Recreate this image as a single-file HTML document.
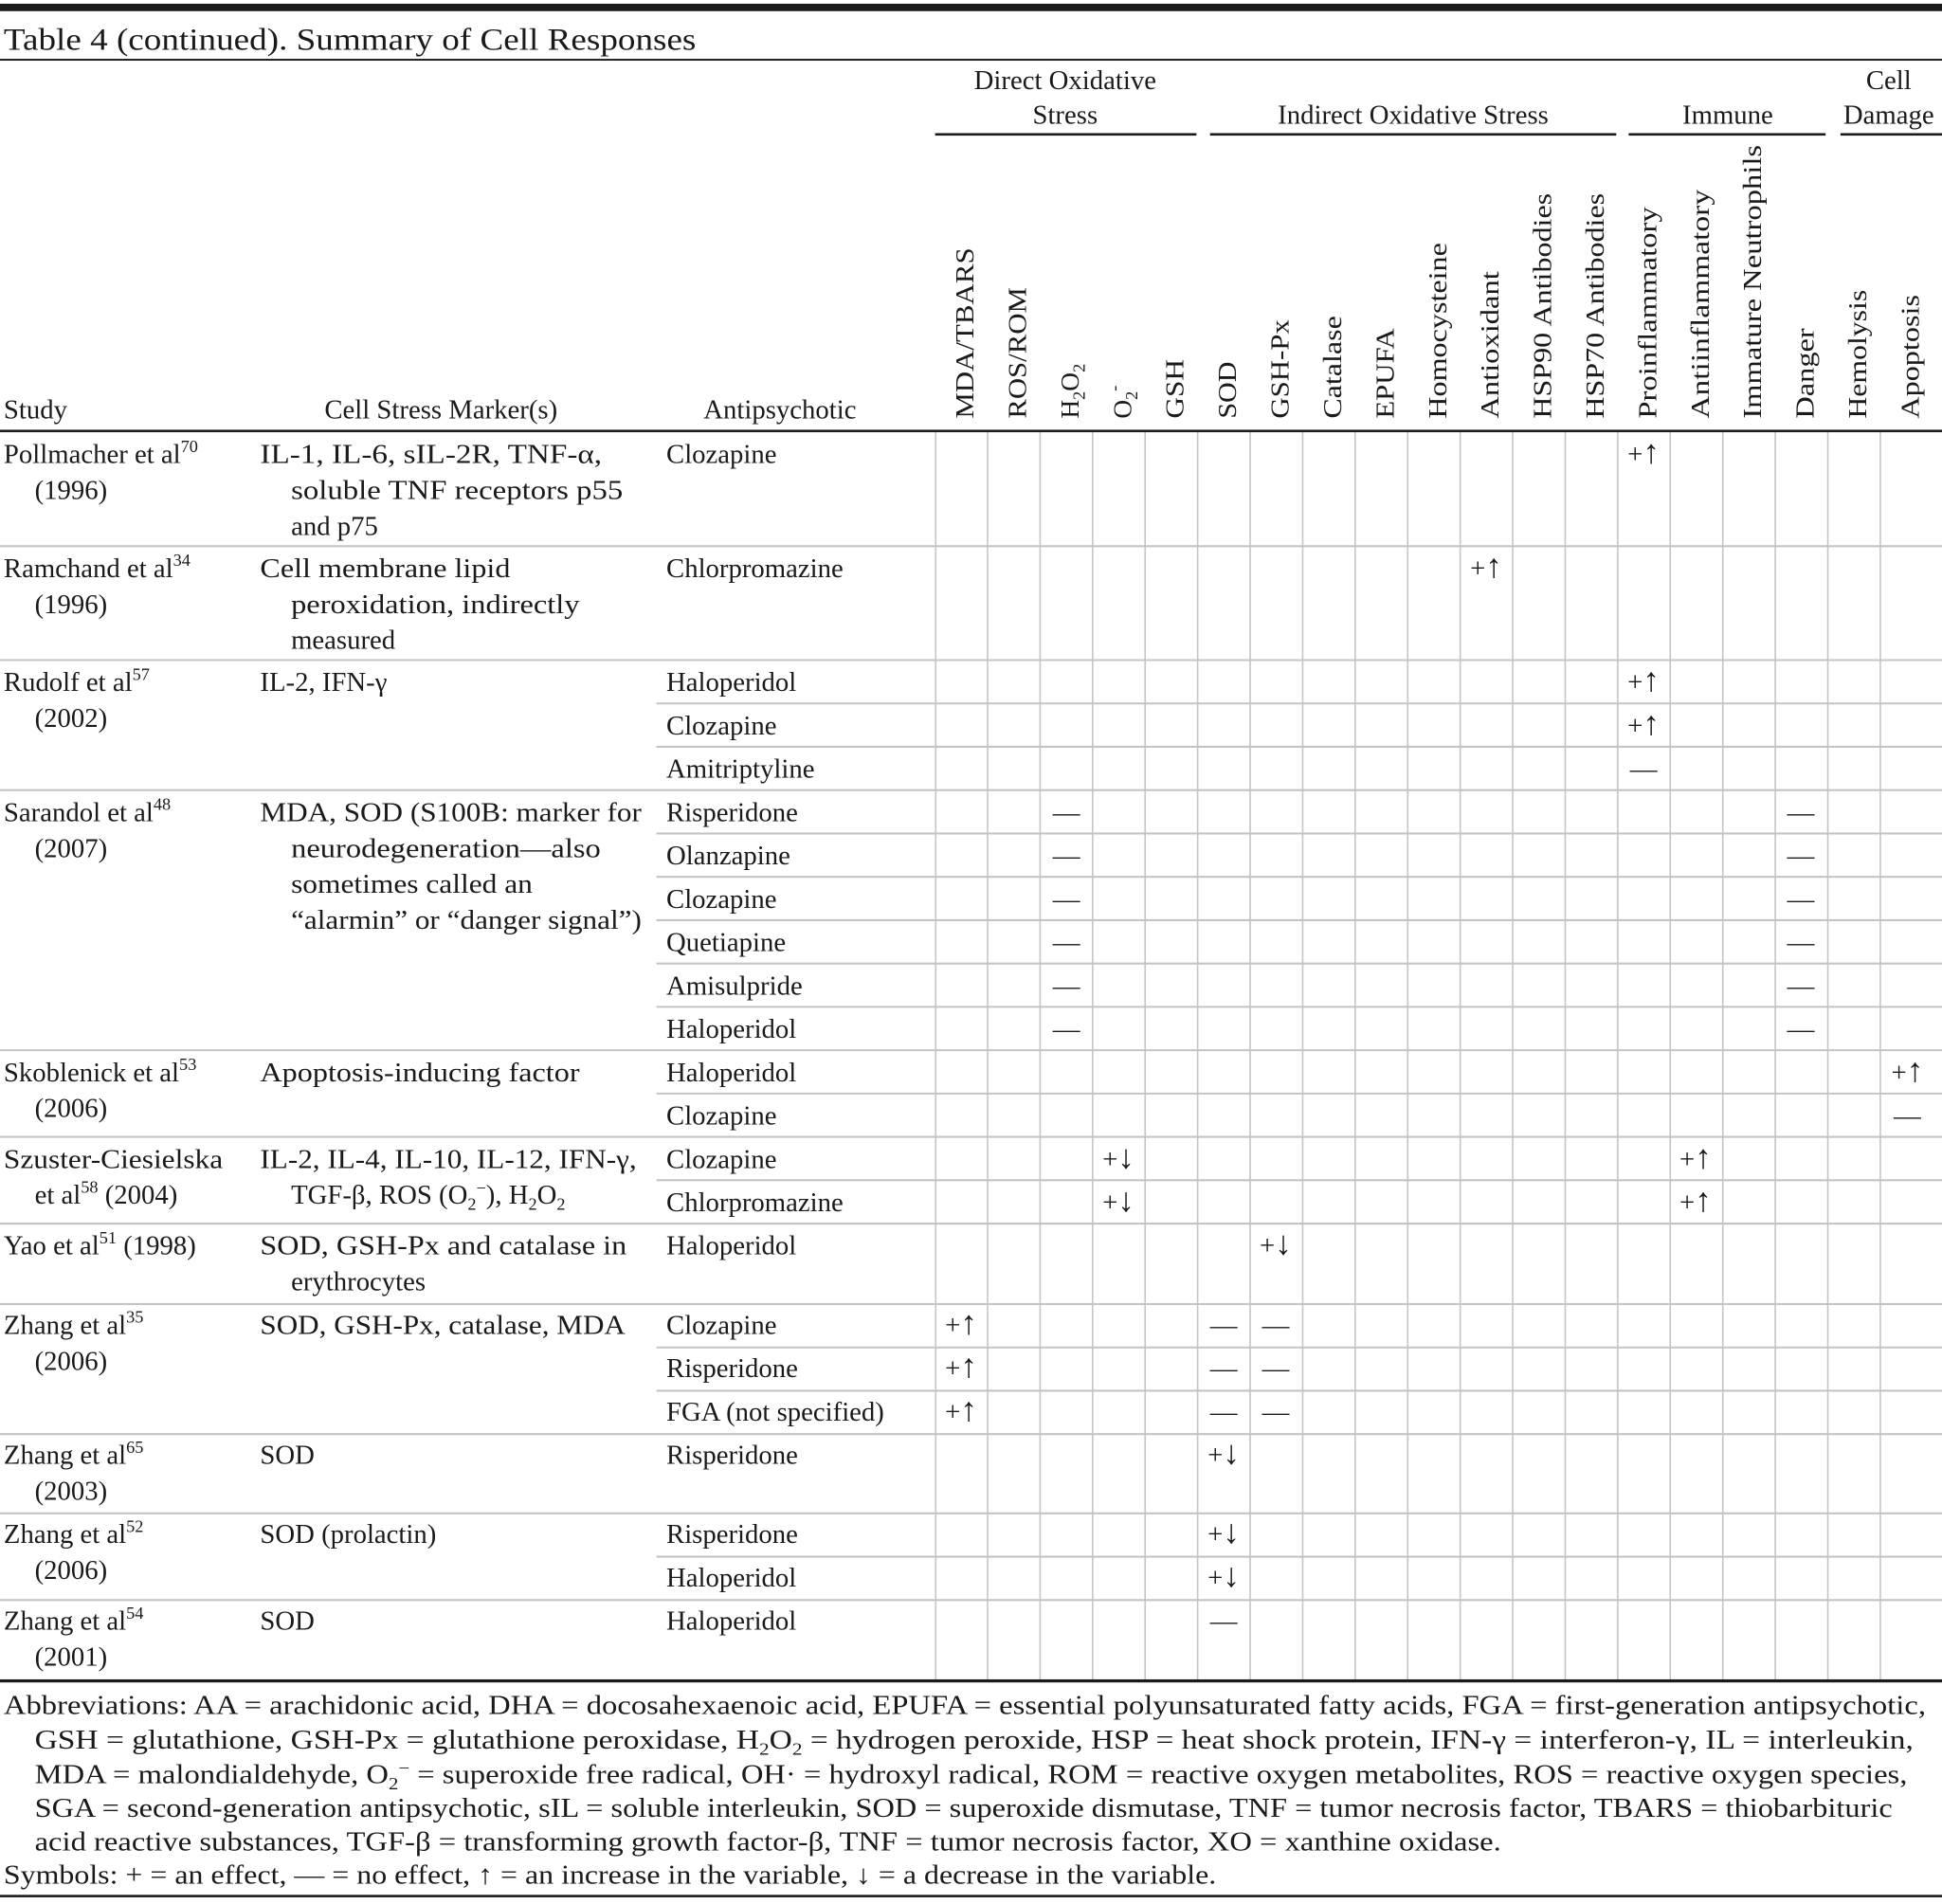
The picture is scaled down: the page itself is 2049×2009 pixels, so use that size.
<!DOCTYPE html>
<html><head><meta charset="utf-8"><style>html,body{margin:0;padding:0;background:#fff}svg{display:block}.ar{font-size:27px}</style></head>
<body>
<svg width="2049" height="2009" viewBox="0 0 1568 1537.4" preserveAspectRatio="none" xmlns="http://www.w3.org/2000/svg" font-family="Liberation Serif, serif" fill="#1a1a1a">
<rect x="0" y="3" width="1568" height="6" fill="#1a1a1a"/>
<text x="3" y="40" font-size="25" textLength="559" lengthAdjust="spacingAndGlyphs">Table 4 (continued). Summary of Cell Responses</text>
<rect x="0" y="47.5" width="1568" height="1.5"/>
<g font-size="22" text-anchor="middle">
<text x="860" y="72">Direct Oxidative</text>
<text x="860" y="100">Stress</text>
<text x="1141" y="100">Indirect Oxidative Stress</text>
<text x="1395" y="100">Immune</text>
<text x="1525" y="72">Cell</text>
<text x="1525" y="100">Damage</text>
</g>
<g fill="#1a1a1a">
<rect x="755" y="107.5" width="211" height="2"/>
<rect x="977" y="107.5" width="328" height="2"/>
<rect x="1315" y="107.5" width="159" height="2"/>
<rect x="1486" y="107.5" width="82" height="2"/>
</g>
<g font-size="22">
<text x="3" y="338">Study</text>
<text x="262" y="338">Cell Stress Marker(s)</text>
<text x="568" y="338">Antipsychotic</text>
</g>
<g font-size="21">
<text transform="translate(786,338) rotate(-90)" textLength="138" lengthAdjust="spacingAndGlyphs">MDA/TBARS</text>
<text transform="translate(828.4,338) rotate(-90)" textLength="106" lengthAdjust="spacingAndGlyphs">ROS/ROM</text>
<text transform="translate(870.8,338) rotate(-90)">H<tspan font-size="14" dy="5">2</tspan><tspan dy="-5">O</tspan><tspan font-size="14" dy="5">2</tspan></text>
<text transform="translate(913.2,338) rotate(-90)">O<tspan font-size="14" dy="5">2</tspan><tspan font-size="14" dy="-14">-</tspan></text>
<text transform="translate(955.6,338) rotate(-90)" textLength="48" lengthAdjust="spacingAndGlyphs">GSH</text>
<text transform="translate(998,338) rotate(-90)" textLength="46" lengthAdjust="spacingAndGlyphs">SOD</text>
<text transform="translate(1040.4,338) rotate(-90)" textLength="80" lengthAdjust="spacingAndGlyphs">GSH-Px</text>
<text transform="translate(1082.8,338) rotate(-90)" textLength="83" lengthAdjust="spacingAndGlyphs">Catalase</text>
<text transform="translate(1125.2,338) rotate(-90)" textLength="73" lengthAdjust="spacingAndGlyphs">EPUFA</text>
<text transform="translate(1167.6,338) rotate(-90)" textLength="142" lengthAdjust="spacingAndGlyphs">Homocysteine</text>
<text transform="translate(1210,338) rotate(-90)" textLength="119" lengthAdjust="spacingAndGlyphs">Antioxidant</text>
<text transform="translate(1252.4,338) rotate(-90)" textLength="182" lengthAdjust="spacingAndGlyphs">HSP90 Antibodies</text>
<text transform="translate(1294.8,338) rotate(-90)" textLength="182" lengthAdjust="spacingAndGlyphs">HSP70 Antibodies</text>
<text transform="translate(1337.2,338) rotate(-90)" textLength="171" lengthAdjust="spacingAndGlyphs">Proinflammatory</text>
<text transform="translate(1379.6,338) rotate(-90)" textLength="185" lengthAdjust="spacingAndGlyphs">Antiinflammatory</text>
<text transform="translate(1422,338) rotate(-90)" textLength="221" lengthAdjust="spacingAndGlyphs">Immature Neutrophils</text>
<text transform="translate(1464.4,338) rotate(-90)" textLength="73" lengthAdjust="spacingAndGlyphs">Danger</text>
<text transform="translate(1506.8,338) rotate(-90)" textLength="104" lengthAdjust="spacingAndGlyphs">Hemolysis</text>
<text transform="translate(1549.2,338) rotate(-90)" textLength="100" lengthAdjust="spacingAndGlyphs">Apoptosis</text>
</g>
<g stroke="#c4c4c4" stroke-width="1.2">
<line x1="755.5" y1="348" x2="755.5" y2="1357"/>
<line x1="797.4" y1="348" x2="797.4" y2="1357"/>
<line x1="839.8" y1="348" x2="839.8" y2="1357"/>
<line x1="882.2" y1="348" x2="882.2" y2="1357"/>
<line x1="924.6" y1="348" x2="924.6" y2="1357"/>
<line x1="967" y1="348" x2="967" y2="1357"/>
<line x1="1009.4" y1="348" x2="1009.4" y2="1357"/>
<line x1="1051.8" y1="348" x2="1051.8" y2="1357"/>
<line x1="1094.2" y1="348" x2="1094.2" y2="1357"/>
<line x1="1136.6" y1="348" x2="1136.6" y2="1357"/>
<line x1="1179" y1="348" x2="1179" y2="1357"/>
<line x1="1221.4" y1="348" x2="1221.4" y2="1357"/>
<line x1="1263.8" y1="348" x2="1263.8" y2="1357"/>
<line x1="1306.2" y1="348" x2="1306.2" y2="1357"/>
<line x1="1348.6" y1="348" x2="1348.6" y2="1357"/>
<line x1="1391" y1="348" x2="1391" y2="1357"/>
<line x1="1433.4" y1="348" x2="1433.4" y2="1357"/>
<line x1="1475.8" y1="348" x2="1475.8" y2="1357"/>
<line x1="1518.2" y1="348" x2="1518.2" y2="1357"/>
</g>
<g stroke="#c4c4c4" stroke-width="1.6">
<line x1="0" y1="441" x2="1568" y2="441"/>
<line x1="0" y1="533" x2="1568" y2="533"/>
<line x1="530" y1="568" x2="1568" y2="568"/>
<line x1="530" y1="603" x2="1568" y2="603"/>
<line x1="0" y1="638" x2="1568" y2="638"/>
<line x1="530" y1="673" x2="1568" y2="673"/>
<line x1="530" y1="708" x2="1568" y2="708"/>
<line x1="530" y1="743" x2="1568" y2="743"/>
<line x1="530" y1="778" x2="1568" y2="778"/>
<line x1="530" y1="813" x2="1568" y2="813"/>
<line x1="0" y1="848" x2="1568" y2="848"/>
<line x1="530" y1="883" x2="1568" y2="883"/>
<line x1="0" y1="918" x2="1568" y2="918"/>
<line x1="530" y1="953" x2="1568" y2="953"/>
<line x1="0" y1="988" x2="1568" y2="988"/>
<line x1="0" y1="1053" x2="1568" y2="1053"/>
<line x1="530" y1="1088" x2="1568" y2="1088"/>
<line x1="530" y1="1123" x2="1568" y2="1123"/>
<line x1="0" y1="1158" x2="1568" y2="1158"/>
<line x1="0" y1="1222" x2="1568" y2="1222"/>
<line x1="530" y1="1257" x2="1568" y2="1257"/>
<line x1="0" y1="1292" x2="1568" y2="1292"/>
</g>
<rect x="0" y="347" width="1568" height="2"/>
<rect x="0" y="1356" width="1568" height="2.5"/>
<rect x="0" y="1530" width="1568" height="2"/>
<g font-size="22">
<text x="3" y="374">Pollmacher et al<tspan font-size="14" dy="-9">70</tspan></text>
<text x="28" y="403">(1996)</text>
<text x="210" y="374" textLength="276" lengthAdjust="spacingAndGlyphs">IL-1, IL-6, sIL-2R, TNF-α,</text>
<text x="235" y="403" textLength="268" lengthAdjust="spacingAndGlyphs">soluble TNF receptors p55</text>
<text x="235" y="432">and p75</text>
<text x="538" y="374">Clozapine</text>

<text x="3" y="466">Ramchand et al<tspan font-size="14" dy="-9">34</tspan></text>
<text x="28" y="495">(1996)</text>
<text x="210" y="466" textLength="202" lengthAdjust="spacingAndGlyphs">Cell membrane lipid</text>
<text x="235" y="495" textLength="233" lengthAdjust="spacingAndGlyphs">peroxidation, indirectly</text>
<text x="235" y="524">measured</text>
<text x="538" y="466">Chlorpromazine</text>

<text x="3" y="558">Rudolf et al<tspan font-size="14" dy="-9">57</tspan></text>
<text x="28" y="587">(2002)</text>
<text x="210" y="558">IL-2, IFN-γ</text>
<text x="538" y="558">Haloperidol</text>
<text x="538" y="593">Clozapine</text>
<text x="538" y="628">Amitriptyline</text>

<text x="3" y="663">Sarandol et al<tspan font-size="14" dy="-9">48</tspan></text>
<text x="28" y="692">(2007)</text>
<text x="210" y="663" textLength="308" lengthAdjust="spacingAndGlyphs">MDA, SOD (S100B: marker for</text>
<text x="235" y="692" textLength="250" lengthAdjust="spacingAndGlyphs">neurodegeneration—also</text>
<text x="235" y="721" textLength="195" lengthAdjust="spacingAndGlyphs">sometimes called an</text>
<text x="235" y="750" textLength="283" lengthAdjust="spacingAndGlyphs">“alarmin” or “danger signal”)</text>
<text x="538" y="663">Risperidone</text>
<text x="538" y="698">Olanzapine</text>
<text x="538" y="733">Clozapine</text>
<text x="538" y="768">Quetiapine</text>
<text x="538" y="803">Amisulpride</text>
<text x="538" y="838">Haloperidol</text>

<text x="3" y="873">Skoblenick et al<tspan font-size="14" dy="-9">53</tspan></text>
<text x="28" y="902">(2006)</text>
<text x="210" y="873" textLength="258" lengthAdjust="spacingAndGlyphs">Apoptosis-inducing factor</text>
<text x="538" y="873">Haloperidol</text>
<text x="538" y="908">Clozapine</text>

<text x="3" y="943" textLength="177" lengthAdjust="spacingAndGlyphs">Szuster-Ciesielska</text>
<text x="28" y="972">et al<tspan font-size="14" dy="-9">58</tspan><tspan dy="9"> (2004)</tspan></text>
<text x="210" y="943" textLength="304" lengthAdjust="spacingAndGlyphs">IL-2, IL-4, IL-10, IL-12, IFN-γ,</text>
<text x="235" y="972">TGF-β, ROS (O<tspan font-size="14" dy="5">2</tspan><tspan font-size="14" dy="-13">−</tspan><tspan dy="8">), H</tspan><tspan font-size="14" dy="5">2</tspan><tspan dy="-5">O</tspan><tspan font-size="14" dy="5">2</tspan></text>
<text x="538" y="943">Clozapine</text>
<text x="538" y="978">Chlorpromazine</text>

<text x="3" y="1013">Yao et al<tspan font-size="14" dy="-9">51</tspan><tspan dy="9"> (1998)</tspan></text>
<text x="210" y="1013" textLength="296" lengthAdjust="spacingAndGlyphs">SOD, GSH-Px  and catalase in</text>
<text x="235" y="1042">erythrocytes</text>
<text x="538" y="1013">Haloperidol</text>

<text x="3" y="1077">Zhang et al<tspan font-size="14" dy="-9">35</tspan></text>
<text x="28" y="1106">(2006)</text>
<text x="210" y="1077" textLength="295" lengthAdjust="spacingAndGlyphs">SOD, GSH-Px, catalase, MDA</text>
<text x="538" y="1077">Clozapine</text>
<text x="538" y="1112">Risperidone</text>
<text x="538" y="1147">FGA (not specified)</text>

<text x="3" y="1182">Zhang et al<tspan font-size="14" dy="-9">65</tspan></text>
<text x="28" y="1211">(2003)</text>
<text x="210" y="1182">SOD</text>
<text x="538" y="1182">Risperidone</text>

<text x="3" y="1246">Zhang et al<tspan font-size="14" dy="-9">52</tspan></text>
<text x="28" y="1275">(2006)</text>
<text x="210" y="1246">SOD (prolactin)</text>
<text x="538" y="1246">Risperidone</text>
<text x="538" y="1281">Haloperidol</text>

<text x="3" y="1316">Zhang et al<tspan font-size="14" dy="-9">54</tspan></text>
<text x="28" y="1345">(2001)</text>
<text x="210" y="1316">SOD</text>
<text x="538" y="1316">Haloperidol</text>
</g>
<g font-size="22" text-anchor="middle">
<text x="1327" y="374">+<tspan class="ar">↑</tspan></text>
<text x="1200" y="466">+<tspan class="ar">↑</tspan></text>
<text x="1327" y="558">+<tspan class="ar">↑</tspan></text>
<text x="1327" y="593">+<tspan class="ar">↑</tspan></text>
<text x="1327" y="628">—</text>
<text x="861" y="663">—</text><text x="1454" y="663">—</text>
<text x="861" y="698">—</text><text x="1454" y="698">—</text>
<text x="861" y="733">—</text><text x="1454" y="733">—</text>
<text x="861" y="768">—</text><text x="1454" y="768">—</text>
<text x="861" y="803">—</text><text x="1454" y="803">—</text>
<text x="861" y="838">—</text><text x="1454" y="838">—</text>
<text x="1540" y="873">+<tspan class="ar">↑</tspan></text>
<text x="1540" y="908">—</text>
<text x="903" y="943">+<tspan class="ar">↓</tspan></text><text x="1369" y="943">+<tspan class="ar">↑</tspan></text>
<text x="903" y="978">+<tspan class="ar">↓</tspan></text><text x="1369" y="978">+<tspan class="ar">↑</tspan></text>
<text x="1030" y="1013">+<tspan class="ar">↓</tspan></text>
<text x="776" y="1077">+<tspan class="ar">↑</tspan></text><text x="988" y="1077">—</text><text x="1030" y="1077">—</text>
<text x="776" y="1112">+<tspan class="ar">↑</tspan></text><text x="988" y="1112">—</text><text x="1030" y="1112">—</text>
<text x="776" y="1147">+<tspan class="ar">↑</tspan></text><text x="988" y="1147">—</text><text x="1030" y="1147">—</text>
<text x="988" y="1182">+<tspan class="ar">↓</tspan></text>
<text x="988" y="1246">+<tspan class="ar">↓</tspan></text>
<text x="988" y="1281">+<tspan class="ar">↓</tspan></text>
<text x="988" y="1316">—</text>
</g>
<g font-size="22">
<text x="3" y="1384" textLength="1552" lengthAdjust="spacingAndGlyphs">Abbreviations: AA = arachidonic acid, DHA = docosahexaenoic acid, EPUFA = essential polyunsaturated fatty acids, FGA = first-generation antipsychotic,</text>
<text x="28" y="1412" textLength="1517" lengthAdjust="spacingAndGlyphs">GSH = glutathione, GSH-Px = glutathione peroxidase, H<tspan font-size="14" dy="5">2</tspan><tspan dy="-5">O</tspan><tspan font-size="14" dy="5">2</tspan><tspan dy="-5"> = hydrogen peroxide, HSP = heat shock protein, IFN-γ = interferon-γ, IL = interleukin,</tspan></text>
<text x="28" y="1440" textLength="1512" lengthAdjust="spacingAndGlyphs">MDA = malondialdehyde, O<tspan font-size="14" dy="5">2</tspan><tspan font-size="14" dy="-13">−</tspan><tspan dy="8"> = superoxide free radical, OH· = hydroxyl radical, ROM = reactive oxygen metabolites, ROS = reactive oxygen species,</tspan></text>
<text x="28" y="1467" textLength="1500" lengthAdjust="spacingAndGlyphs">SGA = second-generation antipsychotic, sIL = soluble interleukin, SOD = superoxide dismutase, TNF = tumor necrosis factor, TBARS = thiobarbituric</text>
<text x="28" y="1494" textLength="1184" lengthAdjust="spacingAndGlyphs">acid reactive substances, TGF-β = transforming growth factor-β, TNF = tumor necrosis factor, XO =  xanthine oxidase.</text>
<text x="3" y="1521" textLength="979" lengthAdjust="spacingAndGlyphs">Symbols: + = an effect, — = no effect, ↑ = an increase in the variable, ↓ = a decrease in the variable.</text>
</g>
</svg>
</body></html>
